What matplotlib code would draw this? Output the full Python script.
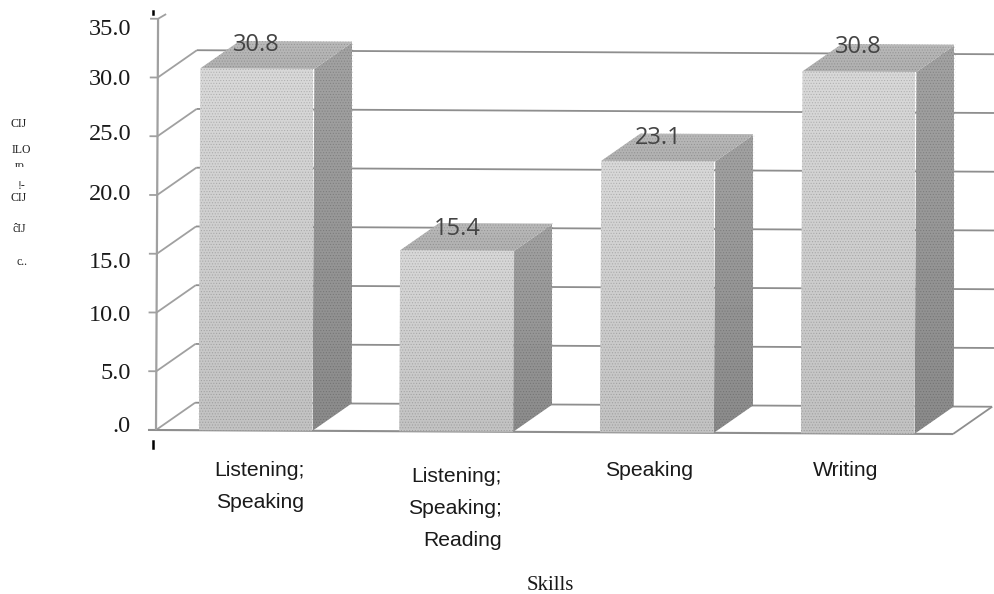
import matplotlib
matplotlib.use("Agg")
import matplotlib.pyplot as plt
from matplotlib.patches import Polygon
from matplotlib.transforms import Affine2D
import numpy as np

# Chart values
categories = ["Listening;\nSpeaking", "Listening;\nSpeaking;\nReading", "Speaking", "Writing"]
percentages = [30.8, 15.4, 23.1, 30.8]
value_labels = ["30.8", "15.4", "23.1", "30.8"]
tick_values = [35, 30, 25, 20, 15, 10, 5, 0]
tick_labels = ["35.0", "30.0", "25.0", "20.0", "15.0", "10.0", "5.0", ".0"]
ylabel_fragments = ["CIJ", "ILO", "ro", "!-", "CIJ", "ĉIJ", "c.."]
xlabel = "Skills"

W, H = 994, 594
X_STEP = 200.7    # px between bars
X_START = 255.5   # px centre of the first bar
Y_UNIT = 11.75    # px per percent
Y_ZERO = 430      # px row of the zero line

plt.rcParams["hatch.linewidth"] = 0.5

fig = plt.figure(figsize=(W / 100, H / 100), dpi=100)
ax = fig.add_axes([0, 0, 1, 1])
ax.axis("off")

xlim = (-X_START / X_STEP, (W - X_START) / X_STEP)
ylim = ((Y_ZERO - H) / Y_UNIT, Y_ZERO / Y_UNIT)

bar_width = 114 / X_STEP
depth_x = 39 / X_STEP
depth_y = 27.5 / Y_UNIT
wall_left = (156 - X_START) / X_STEP
wall_right = (W + 1 - X_START) / X_STEP
floor_right = (953 - X_START) / X_STEP
tick_left = (148 - X_START) / X_STEP

ax.set_xlim(xlim)
ax.set_ylim(ylim)

# the scanned page sits very slightly clockwise
scene = ax.transData + Affine2D().rotate_deg_around(156, H - Y_ZERO, -0.29)

slant_grey = "#a0a0a0"
line_grey = "#8e8e8e"


def draw_line(xs, ys, lw=1.3, color=line_grey):
    ax.plot(xs, ys, color=color, lw=lw, transform=scene, solid_capstyle="butt", zorder=2)


def draw_face(points, top_tone, bottom_tone, zorder):
    # face with a soft vertical gradient and a fine dot screen over it
    poly = Polygon(points, closed=True, facecolor="none", edgecolor="none", transform=scene, zorder=zorder)
    ax.add_patch(poly)
    ramp = np.linspace(top_tone, bottom_tone, 64).reshape(-1, 1)
    xs = [p[0] for p in points]
    ys = [p[1] for p in points]
    im = ax.imshow(ramp, cmap="gray", vmin=0, vmax=1, aspect="auto", zorder=zorder,
                   extent=(min(xs), max(xs), min(ys) - 1, max(ys) + 1))
    im.set_clip_path(poly)
    ax.add_patch(Polygon(points, closed=True, fill=False, hatch="......", edgecolor=(0, 0, 0, 0.16),
                         linewidth=0, transform=scene, zorder=zorder + 0.1))


# back wall gridlines and the slanted side wall
for v in tick_values[1:]:
    draw_line([tick_left, wall_left], [v, v], color=slant_grey)
    draw_line([wall_left, wall_left + depth_x], [v, v + depth_y], color=slant_grey)
    if v > 0:
        draw_line([wall_left + depth_x, wall_right], [v + depth_y, v + depth_y])

# floor edges
draw_line([wall_left + depth_x, floor_right + depth_x], [depth_y, depth_y])
draw_line([floor_right, floor_right + depth_x], [0, depth_y])
draw_line([tick_left, floor_right], [0, 0], lw=1.5)

# value axis with the stub above 35
draw_line([wall_left, wall_left], [0, 35], lw=1.6, color=slant_grey)
draw_line([tick_left, wall_left, wall_left + 0.04], [35, 35, 35.4], color=slant_grey)

# bars
value_nudge = [23, 20, 21, 21]
for i, val in enumerate(percentages):
    x0, x1 = i - bar_width / 2, i + bar_width / 2
    front = [(x0, 0), (x1, 0), (x1, val), (x0, val)]
    side = [(x1, 0), (x1 + depth_x, depth_y), (x1 + depth_x, val + depth_y), (x1, val)]
    top = [(x0, val), (x1, val), (x1 + depth_x, val + depth_y), (x0 + depth_x, val + depth_y)]
    draw_face(front, 0.85, 0.76, 3 + i)
    draw_face(side, 0.64, 0.54, 3 + i)
    draw_face(top, 0.74, 0.68, 3 + i)
    ax.annotate(value_labels[i], xy=(i, val), xytext=(1, value_nudge[i]), textcoords="offset pixels",
                ha="center", va="center", fontsize=17, family="Open Sans", color="#444444", zorder=10)

ax.set_xlim(xlim)
ax.set_ylim(ylim)

# hand placed value tick labels, they do not sit exactly on the ticks
label_nudge = [-11, -2, 2, 0, -9, -3, -2, 4]
for v, lab, nudge in zip(tick_values, tick_labels, label_nudge):
    ax.annotate(lab, xy=((131 - X_START) / X_STEP, v), xytext=(0, nudge), textcoords="offset pixels",
                ha="right", va="center", fontsize=17.5, family="Liberation Serif", color="#1a1a1a", zorder=10)


def px_text(x, y, s, ha="center", **kw):
    fig.text(x / W, 1 - y / H, s, ha=ha, va="center", **kw)


# category labels, one row at a time
sans = dict(fontsize=15.2, family="Liberation Sans", color="#1a1a1a")
cat_rows = [[(259, 471), (260, 502)],
            [(502, 477), (502, 509), (502, 541)],
            [(649, 471)],
            [(846, 471)]]
cat_align = ["center", "right", "center", "center"]
for cat, rows, align in zip(categories, cat_rows, cat_align):
    for part, (x, y) in zip(cat.split("\n"), rows):
        px_text(x, y, part, ha=align, **sans)

px_text(550, 585, xlabel, fontsize=15, family="Liberation Serif", color="#1a1a1a")

# broken rotated axis title, left as it reads
frag_pos = [(19, 124), (21.5, 150), (20, 166), (22, 186), (19, 198), (19.5, 229), (22, 262)]
for frag, (x, y) in zip(ylabel_fragments, frag_pos):
    t = fig.text(x / W, 1 - y / H, frag, ha="center", va="center", fontsize=8.5,
                 family=["Liberation Serif", "DejaVu Serif"], color="#222222")
    if frag == "ro":
        # only the upper half of this one shows
        t.set_clip_path(plt.Rectangle((0, H - 167), 60, 12, transform=None))

# small black marks left by the scan
ax.plot([(153 - X_START) / X_STEP] * 2, [(Y_ZERO - 441) / Y_UNIT, (Y_ZERO - 448) / Y_UNIT], color="black", lw=1.8, zorder=10)
ax.plot([(153 - X_START) / X_STEP] * 2, [(Y_ZERO - 11) / Y_UNIT, (Y_ZERO - 14) / Y_UNIT], color="black", lw=1.8, zorder=10)

fig.savefig("out.png", dpi=100)
